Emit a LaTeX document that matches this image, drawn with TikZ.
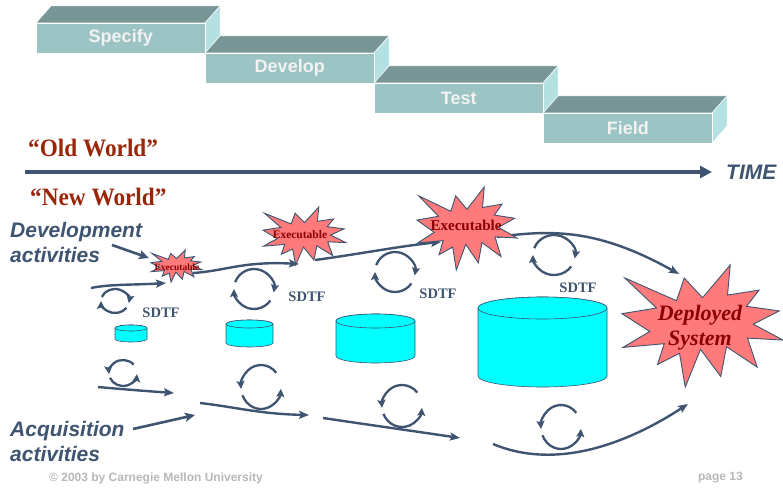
\documentclass[tikz,border=0pt]{standalone}
\usepackage{fontspec}
\setmainfont{Liberation Serif}
\setsansfont{Liberation Sans}
\newfontfamily\worldfont{Liberation Serif}[FakeStretch=0.93]
\usetikzlibrary{arrows.meta}

\definecolor{slate}{HTML}{3E5470}
\definecolor{tealfront}{HTML}{9CC4C4}
\definecolor{tealtop}{HTML}{799696}
\definecolor{tealside}{HTML}{B3E1E1}
\definecolor{boxtext}{HTML}{F2F2F2}
\definecolor{oldred}{HTML}{9A260A}
\definecolor{burstred}{HTML}{FF7A7A}
\definecolor{exetext}{HTML}{8B0000}
\definecolor{drumcyan}{HTML}{00FFFF}
\definecolor{footgray}{HTML}{B8B8B8}

\tikzset{
  phasefront/.style={fill=tealfront, draw=white, line width=0.5pt, text=boxtext,
    font=\sffamily\bfseries\fontsize{18}{20}\selectfont,
    minimum width=169pt, minimum height=30pt, anchor=north west},
  phasetop/.style={fill=tealtop, draw=white, line width=0.5pt},
  phaseside/.style={fill=tealside, draw=white, line width=0.5pt},
  world/.style={text=oldred, font=\worldfont\bfseries\fontsize{25}{28}\selectfont, anchor=base west},
  note/.style={text=slate, align=left, anchor=north west,
    font=\sffamily\bfseries\itshape\fontsize{21}{25}\selectfont},
  timeline/.style={draw=slate, line width=3.5pt, -{Triangle[length=12pt,width=12pt]}},
  pointer/.style={draw=slate, line width=2.6pt, -{Stealth[length=10pt,width=9pt,inset=2pt]}},
  flow/.style={draw=slate, line width=2.4pt, -{Stealth[length=10pt,width=8pt,inset=2pt]}},
  spin/.style={draw=slate, line width=2.3pt, -{Stealth[length=8pt,width=8pt,inset=1.5pt]}},
  burstline/.style={fill=burstred, draw=slate, line width=0.9pt, line join=miter},
  exe/.style={text=exetext, font=\bfseries\fontsize{#1}{#1}\selectfont},
  deploy/.style={text=exetext, align=center, font=\bfseries\itshape\fontsize{22}{25}\selectfont},
  sdtf/.style={text=slate, font=\bfseries\fontsize{14.5}{15}\selectfont},
  drumbody/.style={fill=drumcyan, draw=slate, line width=0.6pt},
  footer/.style={text=footgray, font=\sffamily\bfseries\fontsize{12}{12}\selectfont},
}

% one block of the staircase: left, top, name, label
\newcommand\phasebox[4]{%
  \filldraw[phasetop] (#1,#2) -- ++(15,-17) -- ++(169,0) -- ++(-15,17) -- cycle;
  \filldraw[phaseside] (#1+169,#2) -- ++(15,-17) -- ++(0,30) -- ++(-15,17) -- cycle;
  \node[phasefront] (#3) at (#1,#2) {#4};}

% explosion outline in a box: left, top, width, height
\newcommand\burst[4]{%
  \begin{scope}[shift={(#1,#2)}, xscale=#3/100, yscale=#4/100]
    \filldraw[burstline] (50,26.85) -- (67.23,0) -- (65.53,24.65) -- (85.09,20.63)
      -- (77.32,33.87) -- (97.67,37.67) -- (81.51,48.50) -- (100,61.53)
      -- (77.95,59.92) -- (84.00,83.77) -- (64.91,66.93) -- (61.33,91.38)
      -- (48.76,69.14) -- (39.28,100) -- (35.72,72.35) -- (22.05,81.56)
      -- (26.24,64.52) -- (0.63,67.53) -- (17.23,54.51) -- (0,39.88)
      -- (21.42,35.26) -- (1.71,10.63) -- (33.85,29.26) -- (38.67,10.63) -- cycle;
  \end{scope}}

% data store: left, top, width, height, cap radius
\newcommand\drum[5]{%
  \filldraw[drumbody] (#1,#2+#5) -- (#1,#2+#4-#5)
    arc[start angle=180, end angle=0, x radius=#3/2, y radius=#5]
    -- (#1+#3,#2+#5)
    arc[start angle=0, end angle=-180, x radius=#3/2, y radius=#5] -- cycle;
  \draw[drumbody] (#1+#3/2,#2+#5) ellipse[x radius=#3/2, y radius=#5];}

% clockwise and anticlockwise rework cycles: centre x, centre y, radii
\newcommand\cwspin[4]{%
  \draw[spin] (#1,#2) ++(-160:#3 and #4) arc[start angle=-160, end angle=10, x radius=#3, y radius=#4];
  \draw[spin] (#1,#2) ++(35:#3 and #4) arc[start angle=35, end angle=180, x radius=#3, y radius=#4];}
\newcommand\ccwspin[4]{%
  \draw[spin] (#1,#2) ++(-40:#3 and #4) arc[start angle=-40, end angle=-185, x radius=#3, y radius=#4];
  \draw[spin] (#1,#2) ++(158:#3 and #4) arc[start angle=158, end angle=5, x radius=#3, y radius=#4];}

\begin{document}
\begin{tikzpicture}[x=1pt, y=-1pt, every node/.style={inner sep=0pt}]
  \useasboundingbox[fill=white] (0,0) rectangle (783,489);

  \phasebox{36}{23}{specify}{Specify}
  \phasebox{205}{53}{develop}{Develop}
  \phasebox{374}{83}{test}{Test}
  \phasebox{543}{113}{field}{Field}

  \node[world] (oldworld) at (28,157) {“Old World”};
  \node[world] (newworld) at (30,205) {“New World”};

  \coordinate (tstart) at (25,172);
  \coordinate (tend) at (712,172);
  \node[text=slate, font=\sffamily\bfseries\itshape\fontsize{21}{21}\selectfont, anchor=west] (time) at (726,172) {TIME};
  \draw[timeline] (tstart) -- (tend);

  \node[note] (devnote) at (10,222) {Development\\activities};
  \node[note] (acqnote) at (10,421) {Acquisition\\activities};
  \coordinate (devtail) at (112,245);
  \coordinate (devhead) at (149,258);
  \coordinate (acqtail) at (133,429);
  \coordinate (acqhead) at (195,415);
  \draw[pointer] (devtail) -- (devhead);
  \draw[pointer] (acqtail) -- (acqhead);

  \drum{115}{325}{32}{17}{3}
  \drum{226}{320}{47}{27}{4}
  \drum{336}{314}{79}{49}{7}
  \drum{478}{297}{129}{90}{11}

  % development stream
  \coordinate (d1s) at (91,288);   \coordinate (d1e) at (166,283);
  \coordinate (d2s) at (193,273);  \coordinate (d2e) at (299,264);
  \coordinate (d3s) at (315,260);  \coordinate (d3e) at (441,242);
  \coordinate (d4s) at (497,237);  \coordinate (d4e) at (679,274);
  \draw[flow] (d1s) .. controls (110,284) and (135,285) .. (d1e);
  \draw[flow] (d2s) .. controls (225,271) and (243,261) .. (d2e);
  \draw[flow] (d3s) .. controls (360,254) and (400,246) .. (d3e);
  \draw[flow] (d4s) .. controls (555,229) and (600,230) .. (d4e);

  % acquisition stream
  \coordinate (q1s) at (98,387);   \coordinate (q1e) at (174,393);
  \coordinate (q2s) at (200,403);  \coordinate (q2e) at (309,415);
  \coordinate (q3s) at (323,418);  \coordinate (q3e) at (460,438);
  \coordinate (q4s) at (493,444);  \coordinate (q4e) at (688,404);
  \draw[flow] (q1s) .. controls (120,389) and (145,391) .. (q1e);
  \draw[flow] (q2s) .. controls (235,407) and (260,414) .. (q2e);
  \draw[flow] (q3s) .. controls (370,425) and (420,432) .. (q3e);
  \draw[flow] (q4s) .. controls (555,470) and (625,445) .. (q4e);

  \cwspin{115}{301}{14}{12}
  \cwspin{254}{289}{20}{20}
  \cwspin{395}{272}{20}{20}
  \cwspin{554}{255}{21}{20}
  \ccwspin{123}{373}{14}{13}
  \ccwspin{261}{387}{20}{22}
  \ccwspin{402}{406}{20}{21}
  \ccwspin{561}{427}{20}{22}

  \burst{151}{250}{51}{32}
  \burst{263}{207}{83}{58}
  \burst{417}{187}{100}{83}
  \burst{622}{265}{161}{122}
  \node[exe=9.5] (exeA) at (177,267) {Executable};
  \node[exe=11.5] (exeB) at (300,235) {Executable};
  \node[exe=15] (exeC) at (466,225) {Executable};
  \node[deploy] (deployed) at (700,328) {Deployed\\System};

  \node[sdtf] (sdtfA) at (161,313) {SDTF};
  \node[sdtf] (sdtfB) at (307,297) {SDTF};
  \node[sdtf] (sdtfC) at (438,294) {SDTF};
  \node[sdtf] (sdtfD) at (578,288) {SDTF};

  \node[footer, anchor=west] (copyright) at (49,478) {© 2003 by Carnegie Mellon University};
  \node[footer, anchor=east] (pageno) at (743,478) {page 13};
\end{tikzpicture}
\end{document}
